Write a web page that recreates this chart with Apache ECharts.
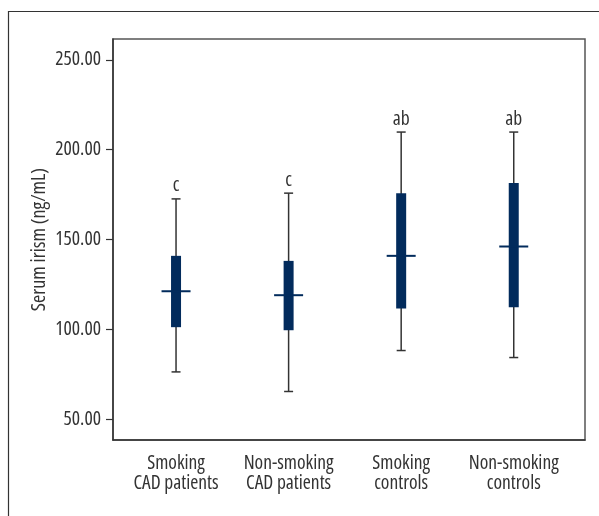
<!DOCTYPE html>
<html>
<head>
<meta charset="utf-8">
<script src="https://cdn.jsdelivr.net/npm/echarts@6/dist/echarts.min.js"></script>
<style>
html,body{margin:0;padding:0;background:#fff;}
#chart{width:599px;height:516px;}
</style>
</head>
<body>
<div id="chart"></div>
<script>
var categories = ['Smoking\nCAD patients', 'Non-smoking\nCAD patients', 'Smoking\ncontrols', 'Non-smoking\ncontrols'];
var lowValues = [76.3, 65.4, 88.2, 84.3];
var q1Values = [101.2, 99.5, 111.6, 112.3];
var medianValues = [121.2, 119.0, 140.9, 146.1];
var q3Values = [140.9, 138.1, 175.8, 181.4];
var highValues = [172.6, 175.8, 209.8, 209.8];
var letters = ['c', 'c', 'ab', 'ab'];
var yTicks = [50, 100, 150, 200, 250];

var FONT = '"Open Sans", "Roboto Condensed", sans-serif';
var STRETCH = 'condensed';
var FS = 19.5;
var NAVY = '#022b5c';
var GREY = '#333333';
var TXT = '#333333';

var data = categories.map(function (c, i) {
  return [i + 1, lowValues[i], q1Values[i], medianValues[i], q3Values[i], highValues[i]];
});

var chart = echarts.init(document.getElementById('chart'), null, {renderer: 'canvas'});
chart.setOption({
  backgroundColor: '#fff',
  animation: false,
  graphic: [{
    type: 'rect',
    shape: {x: 8.5, y: 11.5, width: 620, height: 540},
    style: {fill: 'none', stroke: '#333', lineWidth: 1.2},
    silent: true
  }],
  grid: {
    left: 113, top: 39, right: 14, bottom: 76,
    show: true, borderColor: '#555', borderWidth: 1.5, backgroundColor: 'transparent'
  },
  xAxis: {
    type: 'value',
    min: 0.44, max: 4.633,
    splitLine: {show: false},
    axisLine: {show: true, onZero: false, lineStyle: {color: '#333', width: 1.5}},
    axisTick: {show: false},
    axisLabel: {
      customValues: [1, 2, 3, 4],
      formatter: function (v) { return categories[Math.round(v) - 1] || ''; },
      color: TXT, fontFamily: FONT, fontWeight: STRETCH, fontSize: FS, lineHeight: 20, margin: 13
    }
  },
  yAxis: {
    type: 'value',
    min: 38.4, max: 261.6,
    name: 'Serum irism (ng/mL)',
    nameLocation: 'middle',
    nameGap: 64,
    nameMoveOverlap: false,
    nameTextStyle: {color: TXT, fontFamily: FONT, fontWeight: STRETCH, fontSize: 20},
    splitLine: {show: false},
    axisLine: {show: true, onZero: false, lineStyle: {color: '#333', width: 1.5}},
    axisTick: {show: true, length: 7, customValues: yTicks, lineStyle: {color: '#333', width: 1.2}},
    axisLabel: {
      customValues: yTicks,
      formatter: function (v) { return v.toFixed(2); },
      color: TXT, fontFamily: FONT, fontWeight: STRETCH, fontSize: FS, margin: 12
    }
  },
  series: [{
    type: 'custom',
    data: data,
    encode: {x: 0, y: [1, 2, 3, 4, 5]},
    renderItem: function (params, api) {
      var x = api.value(0);
      var pLow = api.coord([x, api.value(1)]);
      var pQ1 = api.coord([x, api.value(2)]);
      var pMed = api.coord([x, api.value(3)]);
      var pQ3 = api.coord([x, api.value(4)]);
      var pHigh = api.coord([x, api.value(5)]);
      var cx = pLow[0];
      var boxW = 10, medW = 29, capW = 9;
      return {
        type: 'group',
        children: [
          {type: 'line', shape: {x1: cx, y1: pHigh[1], x2: cx, y2: pLow[1]}, style: {stroke: GREY, lineWidth: 1.5}},
          {type: 'line', shape: {x1: cx - capW / 2, y1: pHigh[1], x2: cx + capW / 2, y2: pHigh[1]}, style: {stroke: GREY, lineWidth: 1.5}},
          {type: 'line', shape: {x1: cx - capW / 2, y1: pLow[1], x2: cx + capW / 2, y2: pLow[1]}, style: {stroke: GREY, lineWidth: 1.5}},
          {type: 'rect', shape: {x: cx - boxW / 2, y: pQ3[1], width: boxW, height: pQ1[1] - pQ3[1]}, style: {fill: NAVY}},
          {type: 'line', shape: {x1: cx - medW / 2, y1: pMed[1], x2: cx + medW / 2, y2: pMed[1]}, style: {stroke: NAVY, lineWidth: 2}},
          {type: 'text', style: {text: letters[params.dataIndex], x: cx, y: pHigh[1] - 3, align: 'center', verticalAlign: 'bottom', fill: TXT, font: STRETCH + ' ' + FS + 'px ' + FONT}}
        ]
      };
    }
  }]
});
</script>
</body>
</html>
